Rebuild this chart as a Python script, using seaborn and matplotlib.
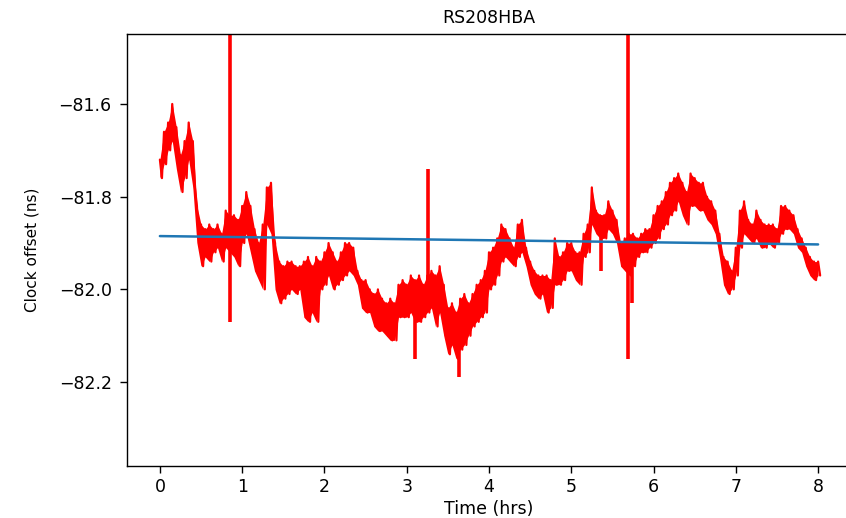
import numpy as np
import pandas as pd
import matplotlib
matplotlib.use("Agg")
import matplotlib.pyplot as plt
import seaborn as sns

# Station clock offset over an 8-hour observation, sampled every 0.05 h.
# Each sample stores the top and bottom of the jitter band at that time.
station = "RS208HBA"
sample_hours = np.linspace(0.0, 8.0, 161)

offset_upper = [
    -81.72, -81.66, -81.64, -81.60, -81.65, -81.71, -81.68, -81.64, -81.68, -81.82,
    -81.86, -81.87, -81.86, -81.87, -81.86, -81.88, -81.83, -81.84, -81.84, -81.85,
    -81.82, -81.79, -81.82, -81.87, -81.90, -81.86, -81.78, -81.77, -81.90, -81.94,
    -81.95, -81.94, -81.94, -81.95, -81.95, -81.94, -81.93, -81.95, -81.93, -81.94,
    -81.92, -81.90, -81.92, -81.94, -81.92, -81.90, -81.90, -81.91, -81.96, -81.98,
    -81.98, -82.00, -82.01, -82.00, -82.02, -82.03, -82.02, -82.03, -81.99, -81.98,
    -81.99, -81.97, -81.98, -81.97, -81.99, -81.97, -81.96, -81.97, -81.95, -81.99,
    -82.04, -82.03, -82.05, -82.02, -82.01, -82.03, -82.01, -81.99, -81.98, -81.96,
    -81.92, -81.91, -81.89, -81.86, -81.87, -81.89, -81.91, -81.86, -81.85, -81.91,
    -81.94, -81.96, -81.97, -81.97, -81.97, -81.98, -81.89, -81.93, -81.92, -81.90,
    -81.90, -81.92, -81.92, -81.88, -81.86, -81.78, -81.83, -81.84, -81.84, -81.81,
    -81.83, -81.85, -81.90, -81.89, -81.88, -81.88, -81.89, -81.88, -81.87, -81.87,
    -81.84, -81.82, -81.81, -81.79, -81.77, -81.76, -81.75, -81.77, -81.79, -81.75,
    -81.76, -81.77, -81.77, -81.80, -81.81, -81.83, -81.88, -81.93, -81.94, -81.96,
    -81.91, -81.83, -81.81, -81.85, -81.86, -81.83, -81.85, -81.86, -81.86, -81.86,
    -81.87, -81.82, -81.82, -81.83, -81.84, -81.87, -81.89, -81.91, -81.93, -81.94,
    -81.94,
]

offset_lower = [
    -81.76, -81.73, -81.70, -81.68, -81.74, -81.79, -81.76, -81.72, -81.78, -81.90,
    -81.95, -81.93, -81.94, -81.92, -81.91, -81.94, -81.91, -81.92, -81.93, -81.95,
    -81.90, -81.88, -81.92, -81.96, -81.98, -82.00, -81.86, -81.88, -82.00, -82.03,
    -82.02, -82.01, -82.00, -82.01, -82.00, -82.06, -82.07, -82.05, -82.07, -82.00,
    -81.99, -81.97, -82.00, -81.99, -81.98, -81.97, -81.96, -81.97, -81.99, -82.04,
    -82.05, -82.05, -82.08, -82.09, -82.09, -82.10, -82.11, -82.11, -82.06, -82.06,
    -82.06, -82.05, -82.07, -82.07, -82.06, -82.05, -82.04, -82.08, -82.05, -82.10,
    -82.14, -82.12, -82.15, -82.13, -82.12, -82.10, -82.08, -82.07, -82.06, -82.05,
    -82.00, -81.99, -81.97, -81.94, -81.93, -81.94, -81.95, -81.93, -81.92, -81.95,
    -81.99, -82.01, -82.02, -82.01, -82.05, -82.04, -81.99, -81.99, -81.98, -81.96,
    -81.96, -81.98, -81.99, -81.93, -81.92, -81.86, -81.88, -81.89, -81.89, -81.87,
    -81.88, -81.90, -81.95, -81.96, -81.97, -81.95, -81.93, -81.92, -81.92, -81.91,
    -81.90, -81.89, -81.87, -81.86, -81.84, -81.83, -81.81, -81.84, -81.86, -81.82,
    -81.82, -81.83, -81.83, -81.85, -81.86, -81.88, -81.93, -81.99, -82.01, -82.00,
    -81.97, -81.91, -81.88, -81.89, -81.90, -81.89, -81.91, -81.91, -81.90, -81.91,
    -81.90, -81.88, -81.87, -81.87, -81.88, -81.91, -81.92, -81.95, -81.97, -81.98,
    -81.97,
]

# Single-sample glitches: time, highest and lowest value reached
spike_hours = [0.85, 3.10, 3.26, 3.64, 5.36, 5.69, 5.74]
spike_top = [-81.30, -81.98, -81.74, -82.05, -81.84, -81.30, -81.90]
spike_bottom = [-82.07, -82.15, -82.02, -82.19, -81.96, -82.15, -82.03]

# Straight-line fit through the offsets (end points)
fit_hours = [0.0, 8.0]
fit_offset = [-81.885, -81.903]

x_ticks = [0, 1, 2, 3, 4, 5, 6, 7, 8]
y_ticks = [-82.2, -82.0, -81.8, -81.6]

# Alternate band top / bottom in time order so the trace shows its jitter
n = len(sample_hours)
trace_t = np.empty(2 * n)
trace_v = np.empty(2 * n)
trace_t[0::2] = sample_hours
trace_t[1::2] = sample_hours + 0.025
trace_v[0::2] = offset_upper
trace_v[1::2] = offset_lower
trace = pd.DataFrame({"hours": trace_t, "offset": trace_v})
fit = pd.DataFrame({"hours": fit_hours, "offset": fit_offset})

sns.set_style("ticks", {
    "axes.edgecolor": "black",
    "xtick.color": "black",
    "ytick.color": "black",
    "text.color": "black",
    "axes.labelcolor": "black",
})
plt.rcParams["font.family"] = ["DejaVu Sans"]
plt.rcParams["axes.linewidth"] = 1.0

fig = plt.figure(figsize=(8.46, 5.18), dpi=100)
ax = fig.add_axes([0.1501, 0.1004, 0.8558, 0.834])

red = "#ff0000"
ax.fill_between(sample_hours, offset_lower, offset_upper, color=red, linewidth=0)
sns.lineplot(data=trace, x="hours", y="offset", ax=ax, color=red,
             linewidth=1.6, estimator=None, sort=False)
ax.vlines(spike_hours, spike_bottom, spike_top, colors=red, linewidth=2.6)
sns.lineplot(data=fit, x="hours", y="offset", ax=ax, color="#1f77b4",
             linewidth=1.8, estimator=None, sort=False)

ax.set_xlim(-0.4, 8.4)
ax.set_ylim(-82.381, -81.449)
ax.set_xticks(x_ticks)
ax.set_yticks(y_ticks)
ax.set_xticklabels([str(v) for v in x_ticks])
ax.set_yticklabels([f"{v:.1f}".replace("-", "\u2212") for v in y_ticks])
ax.tick_params(axis="both", labelsize=12.5, length=5, width=1.0)
ax.tick_params(axis="y", pad=6)

ax.set_title(station, fontsize=12.5, pad=8)
ax.set_xlabel("Time (hrs)", fontsize=12.5, labelpad=3)
ax.set_ylabel("Clock offset (ns)", fontsize=11, labelpad=14)

for side in ["top", "right", "left", "bottom"]:
    ax.spines[side].set_visible(True)

fig.savefig("out.png", dpi=100)
